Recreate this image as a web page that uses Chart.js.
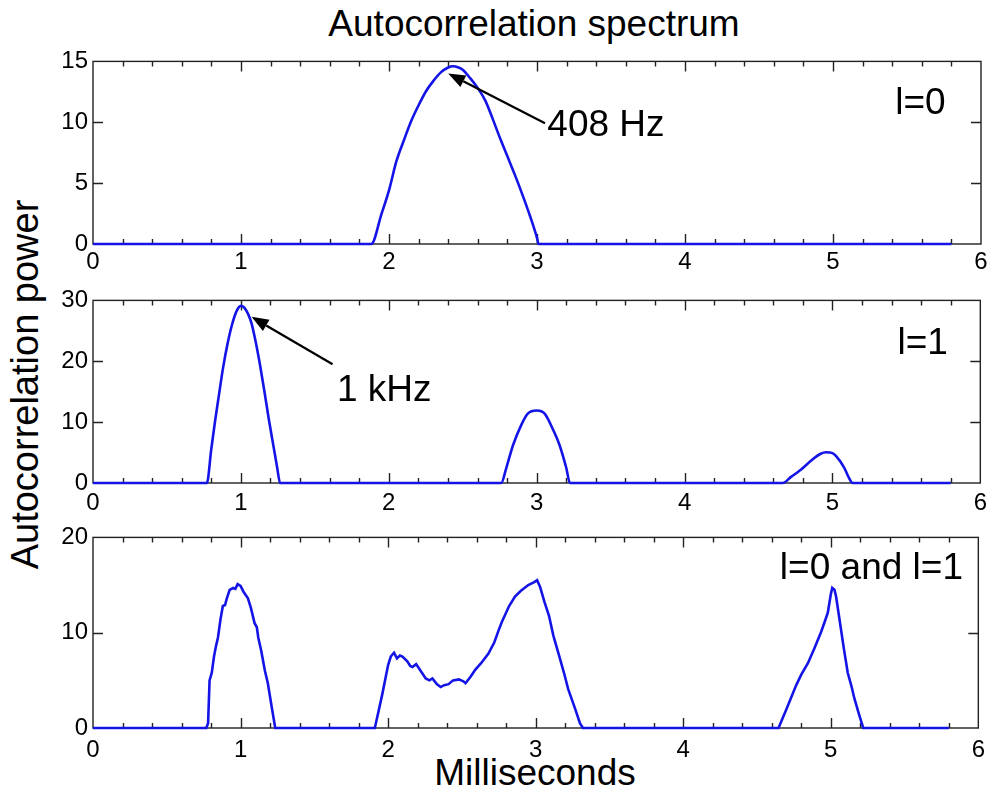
<!DOCTYPE html>
<html><head><meta charset="utf-8">
<script src="https://cdn.jsdelivr.net/npm/chart.js@4.4.1/dist/chart.umd.min.js"></script>
<style>
html,body{margin:0;padding:0;background:#fff;}
body{width:993px;height:794px;position:relative;overflow:hidden;font-family:"Liberation Sans",Arial,Helvetica,sans-serif;}
.pan{position:absolute;left:0;width:993px;}
.txt{position:absolute;color:#000;font-size:37px;line-height:37px;white-space:nowrap;text-align:center;}
</style></head><body>
<div class="txt" id="title" style="left:0;width:1068px;top:5px;">Autocorrelation spectrum</div>
<div class="txt" id="ylab" style="left:-225px;top:366px;width:500px;height:37px;font-size:38px;transform:rotate(-90deg);">Autocorrelation power</div>
<div class="txt" id="xlab" style="left:0;width:1070px;top:754px;">Milliseconds</div>
<div class="pan" style="top:42px;height:232px;"><canvas id="c1" width="993" height="232"></canvas></div>
<div class="pan" style="top:281px;height:232px;"><canvas id="c2" width="993" height="232"></canvas></div>
<div class="pan" style="top:518px;height:240px;"><canvas id="c3" width="993" height="240"></canvas></div>
<script>
// ---- data (milliseconds vs autocorrelation power) ----
const timeL0  = [0, 1.88, 1.95, 2.0, 2.05, 2.1, 2.15, 2.2, 2.25, 2.3, 2.35, 2.4, 2.43, 2.47, 2.5, 2.55, 2.6, 2.65, 2.7, 2.75, 2.8, 2.85, 2.9, 2.95, 3.0, 3.01, 5.8];
const powerL0 = [0, 0, 2.5, 4.4, 6.8, 8.5, 10.1, 11.4, 12.55, 13.4, 14.1, 14.5, 14.6, 14.5, 14.3, 13.6, 12.8, 11.8, 10.3, 8.7, 7.2, 5.7, 4.1, 2.4, 0.5, 0, 0];

const timeL1  = [0, 0.77, 0.8, 0.825, 0.85, 0.88, 0.91, 0.94, 0.97, 1.0, 1.03, 1.07, 1.1, 1.13, 1.16, 1.19, 1.22, 1.245, 1.265,
                 2.76, 2.795, 2.84, 2.897, 2.94, 3.0, 3.054, 3.11, 3.155, 3.2, 3.225,
                 4.664, 4.72, 4.777, 4.867, 4.92, 4.957, 5.0, 5.025, 5.08, 5.115, 5.137, 5.8];
const powerL1 = [0, 0, 5.6, 10.1, 14.2, 19.0, 22.9, 26.0, 28.2, 29.1, 28.6, 26.4, 23.2, 19.3, 14.9, 10.3, 6.1, 2.6, 0,
                 0, 2.5, 6.2, 9.6, 11.4, 11.9, 11.4, 8.8, 6.2, 2.5, 0,
                 0, 1.0, 2.0, 3.9, 4.8, 5.05, 4.9, 4.4, 2.5, 0.7, 0, 0];

const timeBoth  = [0, 0.768, 0.78, 0.79, 0.805, 0.82, 0.835, 0.847, 0.865, 0.88, 0.895, 0.905, 0.926, 0.95, 0.965, 0.98, 1.0, 1.02, 1.05, 1.07, 1.095, 1.11, 1.12, 1.14, 1.165, 1.185, 1.21, 1.235,
                   1.91, 1.96, 2.0, 2.018, 2.04, 2.06, 2.08, 2.097, 2.13, 2.15, 2.165, 2.19, 2.22, 2.255, 2.28, 2.3, 2.33, 2.356, 2.38, 2.41, 2.44, 2.48, 2.51, 2.525, 2.56, 2.59, 2.63, 2.68, 2.72, 2.75, 2.77, 2.82, 2.86, 2.9, 2.95, 2.99, 3.01, 3.03, 3.06, 3.09, 3.12, 3.155, 3.19, 3.22, 3.27, 3.3, 3.32,
                   4.646, 4.7, 4.766, 4.8, 4.845, 4.89, 4.935, 4.96, 4.98, 5.0, 5.01, 5.025, 5.036, 5.06, 5.09, 5.115, 5.14, 5.16, 5.19, 5.22, 5.8];
const powerBoth = [0, 0, 0.5, 5.0, 5.8, 7.5, 8.7, 9.5, 11.5, 12.8, 12.9, 13.5, 14.5, 14.7, 14.6, 15.1, 14.9, 14.3, 13.6, 12.6, 11.0, 10.6, 9.5, 8.1, 6.0, 4.7, 2.3, 0,
                   0, 3.5, 6.6, 7.5, 7.9, 7.3, 7.6, 7.5, 7.0, 6.5, 6.4, 6.7, 6.0, 5.2, 5.0, 5.2, 4.6, 4.3, 4.5, 4.6, 5.0, 5.1, 4.9, 4.7, 5.4, 6.1, 6.8, 7.8, 9.0, 10.3, 11.1, 12.8, 13.8, 14.4, 15.0, 15.3, 15.5, 14.8, 13.2, 11.8, 9.7, 7.8, 5.9, 4.1, 1.9, 0.5, 0,
                   0, 2.0, 4.5, 5.6, 6.8, 8.4, 10.1, 11.2, 12.1, 14.0, 14.7, 14.5, 13.8, 11.3, 8.2, 5.8, 4.4, 3.1, 1.5, 0, 0];

const xTickValues = [0, 1, 2, 3, 4, 5, 6];
const xTickLabels = ['0', '1', '2', '3', '4', '5', '6'];
const yTicksL0 = [0, 5, 10, 15];
const yTicksL1 = [0, 10, 20, 30];
const yTicksBoth = [0, 10, 20];
const panelLabels = ['l=0', 'l=1', 'l=0 and l=1'];
const peakLabels = ['408 Hz', '1 kHz'];

const FONT = '"Liberation Sans", Arial, Helvetica, sans-serif';
const BLUE = '#1414e6';

function drawArrow(ctx, x1, y1, x2, y2) {
  const ang = Math.atan2(y2 - y1, x2 - x1);
  const L = 17, W = 6.5;
  const bx = x2 - L * Math.cos(ang), by = y2 - L * Math.sin(ang);
  ctx.save();
  ctx.strokeStyle = '#000'; ctx.fillStyle = '#000'; ctx.lineWidth = 2.2;
  ctx.beginPath(); ctx.moveTo(x1, y1); ctx.lineTo(bx, by); ctx.stroke();
  ctx.beginPath();
  ctx.moveTo(x2, y2);
  ctx.lineTo(bx + W * Math.sin(ang), by - W * Math.cos(ang));
  ctx.lineTo(bx - W * Math.sin(ang), by + W * Math.cos(ang));
  ctx.closePath(); ctx.fill();
  ctx.restore();
}

function makePanel(id, times, powers, yTicks, yMax, smooth, tickPad, annot) {
  const frame = {
    id: 'frame' + id,
    beforeDatasetsDraw(chart) {
      const {ctx, chartArea: a} = chart;
      const xs = chart.scales.x, ys = chart.scales.y;
      ctx.save();
      ctx.strokeStyle = '#222'; ctx.lineWidth = 1.4;
      ctx.strokeRect(a.left, a.top, a.right - a.left, a.bottom - a.top);
      ctx.beginPath();
      for (let k = 1; k < 30; k++) {
        const v = k * 0.2;
        const px = Math.round(xs.getPixelForValue(v)) + 0.5;
        const len = (k % 5 === 0) ? 10 : 5;
        ctx.moveTo(px, a.bottom); ctx.lineTo(px, a.bottom - len);
        ctx.moveTo(px, a.top); ctx.lineTo(px, a.top + len);
      }
      yTicks.forEach(v => {
        if (v === 0 || v === yMax) return;
        const py = Math.round(ys.getPixelForValue(v)) + 0.5;
        ctx.moveTo(a.left, py); ctx.lineTo(a.left + 10, py);
        ctx.moveTo(a.right, py); ctx.lineTo(a.right - 10, py);
      });
      ctx.stroke();
      ctx.restore();
    },
    afterDraw(chart) {
      const {ctx} = chart;
      const xs = chart.scales.x, ys = chart.scales.y;
      ctx.save();
      ctx.fillStyle = '#000';
      ctx.font = '37px ' + FONT;
      ctx.textBaseline = 'alphabetic';
      ctx.textAlign = 'left';
      annot.texts.forEach(t => {
        ctx.fillText(t.text, xs.getPixelForValue(t.x), ys.getPixelForValue(t.y));
      });
      (annot.arrows || []).forEach(r => {
        drawArrow(ctx, xs.getPixelForValue(r.x1), ys.getPixelForValue(r.y1), xs.getPixelForValue(r.x2), ys.getPixelForValue(r.y2));
      });
      ctx.restore();
    }
  };
  return new Chart(document.getElementById(id), {
    type: 'line',
    data: {
      datasets: [{
        data: times.map((t, i) => ({x: t, y: powers[i]})),
        borderColor: BLUE, borderWidth: 2.6, pointRadius: 0, fill: false,
        cubicInterpolationMode: smooth ? 'monotone' : 'default', tension: 0,
        clip: false
      }]
    },
    options: {
      responsive: false, animation: false, devicePixelRatio: 1,
      layout: {padding: {top: 10, right: 12, left: 0, bottom: 0}},
      plugins: {legend: {display: false}, title: {display: false}, tooltip: {enabled: false}},
      scales: {
        x: {
          type: 'linear', min: 0, max: 6,
          afterBuildTicks: s => { s.ticks = xTickValues.map(v => ({value: v})); },
          afterFit: s => { s.height = 30; },
          grid: {display: false, drawTicks: false}, border: {display: false},
          ticks: {color: '#000', font: {family: FONT, size: 24}, padding: tickPad, maxRotation: 0,
                  callback: (v, i) => xTickLabels[i]}
        },
        y: {
          type: 'linear', min: 0, max: yMax,
          afterBuildTicks: s => { s.ticks = yTicks.map(v => ({value: v})); },
          afterFit: s => { s.width = 93; },
          grid: {display: false, drawTicks: false}, border: {display: false},
          ticks: {color: '#000', font: {family: FONT, size: 24}, padding: 5, callback: v => String(v)}
        }
      }
    },
    plugins: [frame]
  });
}

makePanel('c1', timeL0, powerL0, yTicksL0, 15, true, 4, {
  texts: [{text: peakLabels[0], x: 3.07, y: 8.9}, {text: panelLabels[0], x: 5.42, y: 10.7}],
  arrows: [{x1: 3.054, y1: 9.92, x2: 2.40, y2: 14.0}]
});
makePanel('c2', timeL1, powerL1, yTicksL1, 30, true, 6, {
  texts: [{text: peakLabels[1], x: 1.65, y: 13.4}, {text: panelLabels[1], x: 5.44, y: 21.25}],
  arrows: [{x1: 1.62, y1: 19.5, x2: 1.072, y2: 27.3}]
});
makePanel('c3', timeBoth, powerBoth, yTicksBoth, 20, false, 8, {
  texts: [{text: panelLabels[2], x: 4.655, y: 15.6}]
});
</script>
</body></html>
